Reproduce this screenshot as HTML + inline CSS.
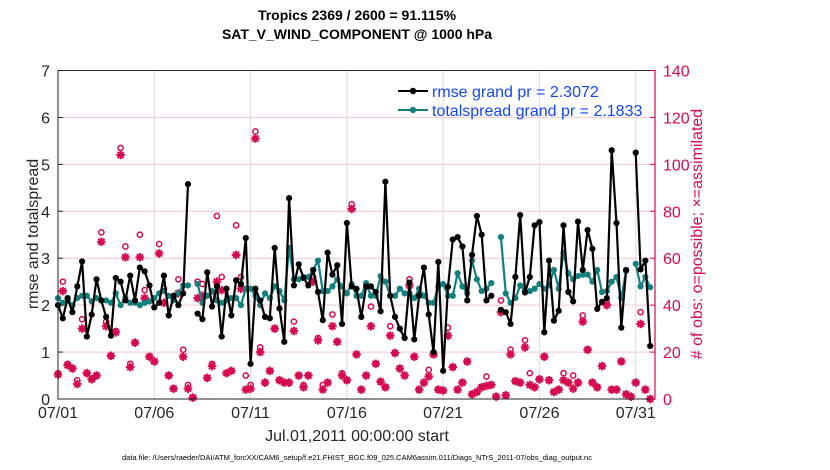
<!DOCTYPE html>
<html><head><meta charset="utf-8"><style>
body{margin:0;background:#fff;}
svg{display:block;font-family:"Liberation Sans",Arial,sans-serif;}
</style></head><body>
<svg id="chart" width="830" height="470" viewBox="0 0 830 470">
<text x="357" y="20" text-anchor="middle" font-size="14" font-weight="bold">Tropics 2369 / 2600 = 91.115%</text>
<text x="357" y="39" text-anchor="middle" font-size="14" font-weight="bold">SAT_V_WIND_COMPONENT @ 1000 hPa</text>
<g id="grid"></g>
<g id="marks"></g>
<g id="axes"></g>
<text transform="translate(38,234) rotate(-90)" text-anchor="middle" font-size="16" fill="#262626">rmse and totalspread</text>
<text transform="translate(702,234) rotate(-90)" text-anchor="middle" font-size="16" fill="#d6094f"># of obs: o=possible; ×=assimilated</text>
<text x="357" y="441" text-anchor="middle" font-size="16" fill="#262626">Jul.01,2011 00:00:00 start</text>
<text x="357" y="460" text-anchor="middle" font-size="7.5" fill="#000">data file: /Users/raeder/DAI/ATM_forcXX/CAM6_setup/f.e21.FHIST_BGC.f09_025.CAM6assim.011/Diags_NTrS_2011-07/obs_diag_output.nc</text>
<g>
<line x1="398" y1="91" x2="428" y2="91" stroke="#000" stroke-width="2"/><circle cx="413" cy="91" r="3.2" fill="#000"/>
<text x="432" y="97" font-size="16" fill="#1446f5">rmse grand pr = 2.3072</text>
<line x1="398" y1="110" x2="428" y2="110" stroke="#138080" stroke-width="2"/><circle cx="413" cy="110" r="3.2" fill="#138080"/>
<text x="432" y="116" font-size="16" fill="#1446f5">totalspread grand pr = 2.1833</text>
</g>
</svg>
<script>
const xTickLabels = ["07/01","07/06","07/11","07/16","07/21","07/26","07/31"];
const xTickDays = [0,5,10,15,20,25,30];
const leftTicks = [0,1,2,3,4,5,6,7];
const rightTicks = [0,20,40,60,80,100,120,140];
const rmse = [2.0,1.72,2.15,1.85,2.4,2.93,1.33,1.8,2.55,2.1,1.75,1.35,2.58,2.5,2.1,2.63,2.1,2.8,2.72,2.42,1.95,2.05,2.63,1.78,2.2,2.0,2.25,4.58,null,
1.82,1.7,2.7,1.97,2.4,1.33,2.35,1.78,2.53,2.45,3.43,0.75,2.35,2.1,1.75,1.72,3.22,1.93,1.22,4.28,2.42,2.87,2.58,2.42,2.75,2.28,1.68,3.12,2.65,2.85,1.6,3.75,2.4,2.35,1.75,
2.4,2.4,2.28,1.87,4.63,2.2,1.75,1.5,1.3,2.48,1.27,2.2,2.8,1.8,1.0,2.92,0.6,2.39,3.4,3.45,3.25,2.1,3.07,3.9,3.5,2.1,2.2,null,
1.9,1.85,1.6,2.6,3.92,2.27,2.6,3.7,3.77,1.42,2.95,1.67,1.88,3.7,2.28,2.08,3.78,2.75,3.6,3.2,1.92,2.07,2.15,5.3,3.75,1.52,2.75,null,5.25,2.76,2.95,1.13];
const spread = [2.15,2.05,2.1,2.0,2.15,2.2,2.2,2.08,2.15,2.1,2.1,2.05,2.25,2.0,2.15,2.05,2.05,2.0,2.05,2.08,2.15,2.25,2.3,2.2,2.1,2.25,2.42,2.42,null,
2.45,2.05,2.2,2.3,2.1,2.05,2.1,2.15,2.15,2.0,2.35,2.35,2.2,2.0,2.25,2.15,2.4,2.3,2.1,3.22,2.55,2.55,2.6,2.6,2.75,2.95,2.3,2.3,2.4,2.55,2.4,2.25,2.45,2.2,2.2,
2.47,2.2,2.2,2.62,2.5,2.2,2.2,2.35,2.25,2.25,2.15,2.35,2.2,2.05,2.05,2.4,2.45,2.2,2.2,2.68,2.4,2.25,2.95,2.55,2.3,2.35,2.47,null,
3.45,2.25,2.05,2.15,2.42,2.3,2.3,2.35,2.45,2.35,2.42,2.75,2.35,3.12,2.68,2.55,2.62,2.65,2.65,2.5,2.75,2.28,2.3,2.5,2.6,2.15,2.73,null,2.88,2.4,2.6,2.38];
const assimilated = [10.4,46,14.4,13,6.4,30,11,8.4,10,67,31,18.4,28.4,104,60.4,13.6,24,60.4,43,18,16,62,41,10,4.4,45,18,4.4,0.6,43,44,9,14,50,46.4,11,12,61.4,47,4,4.4,111,20,7,12,30,8,7,7,29,10,5,10,50,25,4,7,31,24.4,10,8,81,19,4,
10,31,15,7.4,5,27,19.6,13,10,48.4,18,4,7,9.6,19,4,3.6,27,13.6,4,7,16,2,3,5,5.6,6,1,37,1.6,19,7.6,7,22,6,5,8.4,18,8,3,4,8,7,4.4,7,33,21,7,5,14,40,4,4,16,2,1,7,32,4,0];
const possible = [11,50,15,13,8,34,11,8.4,10,71,33,18.4,29,107,65,15,24,70,46.4,18,16,66,47,10,4.4,51,21,6,0.6,50,49,9,15,78,52,11,12,74,52,10,6,114,22,7,12,30,8,7,7,33,10,6,10,52,26,6,7,36,24.4,11,8,83,19,4,
10,39.4,15,7.4,5,31,19.6,13,10,51,18,4,7,12.4,19,4,3.6,30.4,13.6,4,7,16,2,3,5,9.6,6,1,42,1.6,21,7.6,7,25,11,5,8.4,18,8,3,4,11,7,10,7,35.6,21,7,5,14,41,4,4,16,2,1,7,37,4,0];

const NS="http://www.w3.org/2000/svg";
const X0=58,X1=655,YT=70.5,YB=399,DAYS=31;
const xs=d=>X0+(X1-X0)*d/DAYS;
const yl=v=>YB-(YB-YT)*v/7;
const yr=v=>YB-(YB-YT)*v/140;
const dayOf=i=>i*0.25;
function mk(tag,attrs,parent){const e=document.createElementNS(NS,tag);for(const k in attrs)e.setAttribute(k,attrs[k]);parent.appendChild(e);return e;}
const grid=document.getElementById('grid'),marks=document.getElementById('marks'),axes=document.getElementById('axes');
mk('rect',{x:X0,y:YT,width:X1-X0,height:YB-YT,fill:'#fff'},grid);
leftTicks.forEach(v=>{if(v>0&&v<7){const l=mk('line',{x1:X0,x2:X1,y1:yl(v),y2:yl(v),stroke:'#f3c6d4','stroke-width':1},grid);

}});
xTickDays.forEach(d=>{if(d>0){const l=mk('line',{x1:xs(d),x2:xs(d),y1:YT,y2:YB,stroke:'#dcdcdc','stroke-width':1},grid);

}});
const pink='#d6094f';
possible.forEach((v,i)=>{const c=mk('circle',{cx:xs(dayOf(i)),cy:yr(v),r:2.6,fill:'none',stroke:pink,'stroke-width':1.5},marks);

});
assimilated.forEach((v,i)=>{const x=xs(dayOf(i)),y=yr(v);const g=mk('g',{stroke:pink,'stroke-width':2},marks);


for(let a=0;a<4;a++){const t=a*Math.PI/4;mk('line',{x1:x-4.3*Math.cos(t),y1:y-4.3*Math.sin(t),x2:x+4.3*Math.cos(t),y2:y+4.3*Math.sin(t)},g);}});
function series(arr,color,name){let d='',pen=false;arr.forEach((v,i)=>{if(v==null){pen=false;return;}d+=(pen?'L':'M')+xs(dayOf(i)).toFixed(1)+','+yl(v).toFixed(1);pen=true;});
const p=mk('path',{d:d,fill:'none',stroke:color,'stroke-width':2.2,'stroke-linejoin':'round'},marks);


arr.forEach((v,i)=>{if(v==null)return;const c=mk('circle',{cx:xs(dayOf(i)),cy:yl(v),r:3.1,fill:color},marks);

});}
series(spread,'#138080','totalspread');
series(rmse,'#000','rmse');
mk('rect',{x:X0,y:YT,width:X1-X0,height:YB-YT,fill:'none',stroke:'#262626','stroke-width':1},axes);
mk('line',{x1:X1,x2:X1,y1:YT,y2:YB,stroke:pink,'stroke-width':1.2},axes);
leftTicks.forEach(v=>{const t=mk('text',{x:X0-8,y:yl(v)+6,'text-anchor':'end','font-size':16,fill:'#262626'},axes);t.textContent=v;


mk('line',{x1:X0,x2:X0+5,y1:yl(v),y2:yl(v),stroke:'#262626'},axes);});
rightTicks.forEach(v=>{const t=mk('text',{x:X1+8,y:yr(v)+6,'font-size':16,fill:pink},axes);t.textContent=v;


mk('line',{x1:X1-5,x2:X1,y1:yr(v),y2:yr(v),stroke:pink},axes);});
xTickDays.forEach((d,i)=>{const t=mk('text',{x:xs(d),y:YB+19,'text-anchor':'middle','font-size':16,fill:'#262626'},axes);t.textContent=xTickLabels[i];

});
</script>
</body></html>
